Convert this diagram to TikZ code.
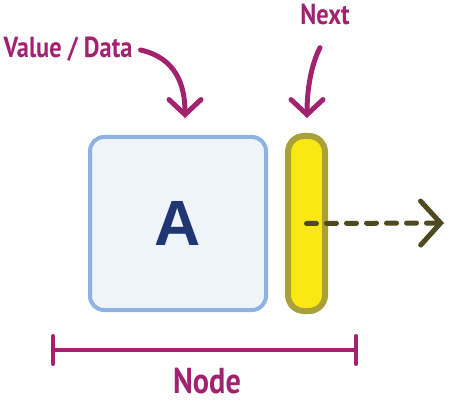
\documentclass[tikz,border=0pt]{standalone}
\usepackage{fontspec}
\usetikzlibrary{arrows.meta}
\newfontfamily\handfont[FakeStretch=0.84]{PT Sans}
\newfontfamily\letterfont{Liberation Sans}
\definecolor{labelpink}{HTML}{A3226F}
\definecolor{databorder}{HTML}{8EB2E2}
\definecolor{datafill}{HTML}{EFF3FA}
\definecolor{nextborder}{HTML}{A9A03C}
\definecolor{nextfill}{HTML}{FAE812}
\definecolor{pointer}{HTML}{4E4920}
\definecolor{letter}{HTML}{1F3673}

\begin{document}
\begin{tikzpicture}[x=1pt, y=-1pt, line cap=round,
  label/.style={text=labelpink, font=\handfont\bfseries\fontsize{29}{29}\selectfont, inner sep=0pt},
  callout/.style={labelpink, line width=5pt, -{Straight Barb[length=15pt, width=32pt, line cap=round]}}]
\useasboundingbox (0,0) rectangle (450,401);
%Value part
\node[draw=databorder, fill=datafill, line width=4pt, rounded corners=14pt, minimum width=176pt, minimum height=173pt, inner sep=0pt, text=letter, font=\letterfont\bfseries\fontsize{64}{64}\selectfont] (data) at (178, 223.5) {A};
%Next part
\node[draw=nextborder, fill=nextfill, line width=6pt, rounded corners=16pt, minimum width=37pt, minimum height=175pt, inner sep=0pt] (next) at (306.5, 223.5) {};
%Labels
\node[label] (vlabel) at (68, 49) {Value / Data};
\node[label] (nlabel) at (325, 14) {Next};
\node[label, font=\handfont\bfseries\fontsize{36}{36}\selectfont] (nodelabel) at (207, 381) {Node};
%Arrows
\coordinate (vtip) at (185, 118);
\coordinate (ntip) at (307, 118);
\draw[callout] (vlabel.east) ++(8, 1) .. controls (176, 58) and (185, 85) .. (vtip);
\draw[callout] (nlabel.south) ++(-5, 23) .. controls (311, 65) and (307, 90) .. (ntip);
%Pointer
\coordinate (ptr) at (444, 223);
\draw[pointer, line width=5pt, dash pattern=on 10pt off 10pt, -{Straight Barb[length=20pt, width=44pt, line cap=round]}] (next.center) -- (ptr);
%Span
\coordinate (sl) at (51, 350);
\coordinate (sr) at (358, 350);
\draw[labelpink, line width=4pt, {Bar[width=28pt, line cap=round]}-{Bar[width=28pt, line cap=round]}] (sl) -- (sr);
\end{tikzpicture}
\end{document}
